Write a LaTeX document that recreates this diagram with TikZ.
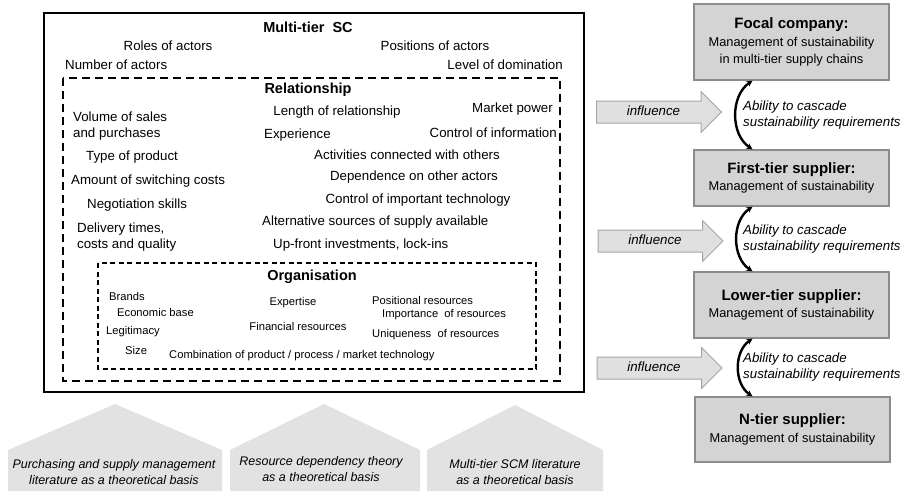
\documentclass[tikz,border=0pt]{standalone}
\usepackage{fontspec}
\setmainfont{Liberation Sans}
\usetikzlibrary{shapes.arrows,arrows.meta}
\tikzset{
  item/.style={font=\fontsize{13.3}{16}\selectfont, inner sep=0pt},
  orgitem/.style={font=\fontsize{11.2}{13}\selectfont, inner sep=0pt},
  head/.style={font=\fontsize{14.5}{17}\selectfont\bfseries, inner sep=0pt},
  tier/.style={draw=boxline, fill=boxfill, line width=1.3pt, minimum width=195pt, align=center, font=\fontsize{12.8}{17.5}\selectfont},
  infl/.style={single arrow, draw=arrowline, fill=arrowfill, line width=1pt, single arrow head extend=9.5pt, single arrow tip angle=90, single arrow head indent=0pt, minimum height=125pt, inner xsep=2pt, inner ysep=5pt, text height=9pt, text depth=2pt, font=\fontsize{13.3}{16}\selectfont\itshape},
  cascade/.style={line width=2.4pt, {Stealth[length=6pt,width=6pt]}-{Stealth[length=6pt,width=6pt]}, bend right=56},
  ability/.style={font=\fontsize{13.3}{16.5}\selectfont\itshape, align=left, anchor=west, inner sep=0pt},
  basis/.style={font=\fontsize{12.5}{16}\selectfont\itshape, align=center, inner sep=0pt},
  house/.style={fill=basefill}
}
\begin{document}
\begin{tikzpicture}[x=1pt, y=-1pt]
\definecolor{boxfill}{RGB}{212,212,212}
\definecolor{boxline}{RGB}{140,140,140}
\definecolor{arrowfill}{RGB}{224,224,224}
\definecolor{arrowline}{RGB}{166,166,166}
\definecolor{basefill}{RGB}{226,226,226}
\useasboundingbox (0,0) rectangle (904,491);
% frames
\draw[line width=2pt] (44,13) rectangle (584,392);
\draw[line width=1.4pt, dash pattern=on 8pt off 5pt] (63,78) rectangle (560,381);
\draw[line width=1.1pt, dash pattern=on 5pt off 3.5pt] (98,263) rectangle (536,369);
% multi-tier SC
\node[head] (msc) at (308,27) {Multi-tier\ \ SC};
\node[item] (roles) at (168,46) {Roles of actors};
\node[item] (posit) at (435,46) {Positions of actors};
\node[item, anchor=west] (number) at (65,65) {Number of actors};
\node[item, anchor=east] (level) at (563,65) {Level of domination};
% relationship
\node[head] (rel) at (308,90) {Relationship};
\node[item, anchor=west, align=left] (volume) at (73,126) {Volume of sales\\and purchases};
\node[item] (length) at (337,112) {Length of relationship};
\node[item, anchor=east] (market) at (553,109) {Market power};
\node[item, anchor=west] (exper) at (264,135) {Experience};
\node[item, anchor=east] (ctrlinfo) at (557,133) {Control of information};
\node[item, anchor=west] (type) at (86,157) {Type of product};
\node[item] (activ) at (407,155) {Activities connected with others};
\node[item, anchor=west] (amount) at (71,181) {Amount of switching costs};
\node[item] (depend) at (414,177) {Dependence on other actors};
\node[item, anchor=west] (negot) at (87,205) {Negotiation skills};
\node[item] (ctrltech) at (418,200) {Control of important technology};
\node[item, anchor=west, align=left] (deliv) at (77,237) {Delivery times,\\costs and quality};
\node[item, anchor=west] (altern) at (262,222) {Alternative sources of supply available};
\node[item, anchor=west] (upfront) at (273,245) {Up-front investments, lock-ins};
% organisation
\node[head] (org) at (312,277) {Organisation};
\node[orgitem, anchor=west] (brands) at (109,296) {Brands};
\node[orgitem, anchor=west] (econ) at (117,312) {Economic base};
\node[orgitem, anchor=west] (legit) at (106,332) {Legitimacy};
\node[orgitem, anchor=west] (size) at (125,350) {Size};
\node[orgitem] (expert) at (293,303) {Expertise};
\node[orgitem] (financ) at (298,326) {Financial resources};
\node[orgitem, anchor=west] (posres) at (372,300) {Positional resources};
\node[orgitem, anchor=west] (import) at (382,315) {Importance\ \ of resources};
\node[orgitem, anchor=west] (unique) at (372,335) {Uniqueness\ \ of resources};
\node[orgitem, anchor=west] (combin) at (169,356) {Combination of product / process / market technology};
% tiers
\node[tier, minimum height=76pt] (focal) at (791.5,42) {{\fontsize{15}{17.5}\selectfont\bfseries Focal company:}\\Management of sustainability\\in multi-tier supply chains};
\node[tier, minimum height=56pt] (first) at (791.5,178) {{\fontsize{15}{17.5}\selectfont\bfseries First-tier supplier:}\\Management of sustainability};
\node[tier, minimum height=66pt] (lower) at (791.5,305) {{\fontsize{15}{17.5}\selectfont\bfseries Lower-tier supplier:}\\Management of sustainability};
\node[tier, minimum height=65pt] (ntier) at (792.5,429.5) {{\fontsize{15}{17.5}\selectfont\bfseries N-tier supplier:}\\Management of sustainability};
\draw[cascade] ([xshift=-39pt]focal.south) to ([xshift=-39pt]first.north);
\draw[cascade] ([xshift=-39pt]first.south) to ([xshift=-39pt]lower.north);
\draw[cascade] ([xshift=-39pt]lower.south) to ([xshift=-40pt]ntier.north);
\node[ability] (abil1) at (743,115) {Ability to cascade\\sustainability requirements};
\node[ability] (abil2) at (743,239) {Ability to cascade\\sustainability requirements};
\node[ability] (abil3) at (743,367) {Ability to cascade\\sustainability requirements};
\node[infl] (infl1) at (653.5,112) {influence};
\node[infl] (infl2) at (655,241) {influence};
\node[infl] (infl3) at (654,368) {influence};
% theoretical bases
\fill[house] (8,491) -- (8,450) -- (115,404) -- (222,450) -- (222,491) -- cycle;
\fill[house] (230,491) -- (230,450) -- (324,404) -- (420,450) -- (420,491) -- cycle;
\fill[house] (427,491) -- (427,450) -- (515,405) -- (603,450) -- (603,491) -- cycle;
\node[basis] (basis1) at (114,472) {Purchasing and supply management\\literature as a theoretical basis};
\node[basis] (basis2) at (321,469) {Resource dependency theory\\as a theoretical basis};
\node[basis] (basis3) at (515,472) {Multi-tier SCM literature\\as a theoretical basis};
\end{tikzpicture}
\end{document}
